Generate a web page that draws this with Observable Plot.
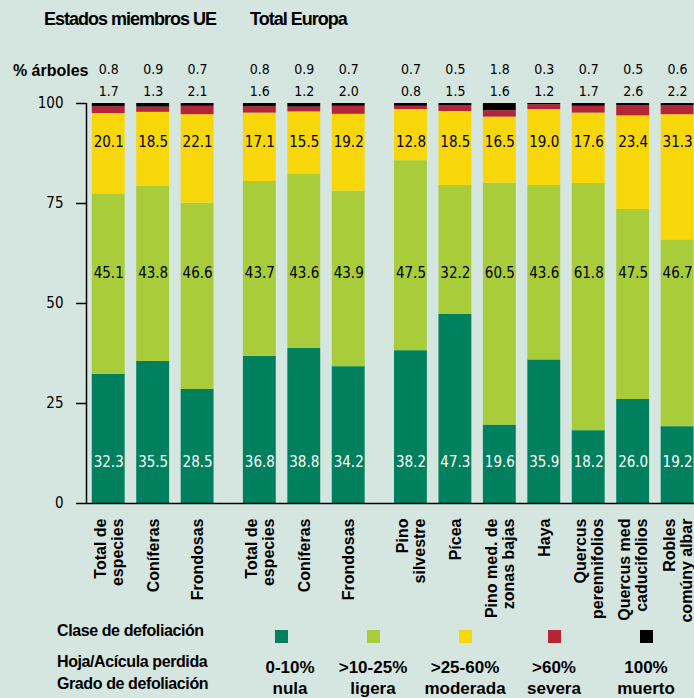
<!DOCTYPE html>
<html>
<head>
<meta charset="utf-8">
<script src="https://cdn.jsdelivr.net/npm/d3@7"></script>
<script src="https://cdn.jsdelivr.net/npm/@observablehq/plot@0.6"></script>
<style>
  html, body { margin: 0; padding: 0; background: #d5e6e0; }
  #wrap { position: relative; width: 694px; height: 698px; background: #d5e6e0; overflow: hidden;
          font-family: "Liberation Sans", Arial, sans-serif; color: #000; }
  #title { position: relative; height: 40px; }
  #title span { position: absolute; top: 9px; font-weight: bold; font-size: 18px; letter-spacing: -1px; }
  #chart { position: absolute; top: 40px; left: 0; }
  #legend { position: absolute; top: 612px; left: 0; width: 694px; height: 86px; }
  #legend .lab { position: absolute; left: 57px; font-size: 16px; font-weight: bold; letter-spacing: -0.4px; }
  #legend .sq { position: absolute; width: 13px; height: 13px; top: 18px; }
  #legend .it { position: absolute; top: 45px; width: 100px; text-align: center; font-size: 17px; font-weight: bold; line-height: 21px; }
  g[aria-label="category labels"] text { letter-spacing: 0.8px; }
</style>
</head>
<body>
<div id="wrap">
  <div id="title"></div>
  <div id="chart"></div>
  <div id="legend"></div>
</div>
<script>
// ---- data ----
const categories = [
  "Total de\nespecies", "Coníferas", "Frondosas",
  "Total de\nespecies", "Coníferas", "Frondosas",
  "Pino\nsilvestre", "Pícea", "Pino med. de\nzonas bajas", "Haya",
  "Quercus\nperennifolios", "Quercus med\ncaducifolios", "Robles\ncomúny albar"
];
const groupOf = [0, 0, 0, 1, 1, 1, 2, 2, 2, 2, 2, 2, 2];
const groupTitles = ["Estados miembros UE", "Total Europa"];
const nula     = [32.3, 35.5, 28.5, 36.8, 38.8, 34.2, 38.2, 47.3, 19.6, 35.9, 18.2, 26.0, 19.2];
const ligera   = [45.1, 43.8, 46.6, 43.7, 43.6, 43.9, 47.5, 32.2, 60.5, 43.6, 61.8, 47.5, 46.7];
const moderada = [20.1, 18.5, 22.1, 17.1, 15.5, 19.2, 12.8, 18.5, 16.5, 19.0, 17.6, 23.4, 31.3];
const severa   = [1.7, 1.3, 2.1, 1.6, 1.2, 2.0, 0.8, 1.5, 1.6, 1.2, 1.7, 2.6, 2.2];
const muerto   = [0.8, 0.9, 0.7, 0.8, 0.9, 0.7, 0.7, 0.5, 1.8, 0.3, 0.7, 0.5, 0.6];
const classKeys = ["nula", "ligera", "moderada", "severa", "muerto"];
const classColors = ["#00805d", "#a8cc3a", "#f7d70a", "#b42537", "#000000"];
const legendPct = ["0-10%", ">10-25%", ">25-60%", ">60%", "100%"];
const legendName = ["nula", "ligera", "moderada", "severa", "muerto"];
const yTicks = [0, 25, 50, 75, 100];
const rowLabel = "% árboles";
const legendLabels = ["Clase de defoliación", "Hoja/Acícula perdida", "Grado de defoliación"];

// ---- derived ----
const series = [nula, ligera, moderada, severa, muerto];
const slot = categories.map((c, i) => i + groupOf[i] * 0.4);
const rows = [];
categories.forEach((c, i) => {
  let acc = 0;
  series.forEach((s, k) => {
    rows.push({slot: slot[i], cls: classKeys[k], y1: acc, y2: acc + s[i]});
    acc += s[i];
  });
});
const half = 0.37;
const xDomain = [-0.5, 13.18];
const NUM = "'Liberation Sans Narrow','DejaVu Sans Condensed','Roboto Condensed',sans-serif";
const BOLD = "'Liberation Sans', Arial, sans-serif";
const idx = categories.map((c, i) => i);
const fmt = v => v.toFixed(1);

const plot = Plot.plot({
  width: 694,
  height: 590,
  marginTop: 63,
  marginBottom: 127,
  marginLeft: 86,
  marginRight: 0,
  style: {background: "transparent", fontFamily: NUM, fontSize: "14px", color: "#000", overflow: "visible"},
  x: {type: "linear", domain: xDomain, axis: null},
  y: {domain: [0, 100], axis: null},
  color: {domain: classKeys, range: classColors},
  marks: [
    Plot.rect(rows, {x1: d => d.slot - half, x2: d => d.slot + half, y1: "y1", y2: "y2", fill: "cls"}),
    Plot.axisY({ticks: yTicks, tickSize: 10, tickPadding: 13, fontSize: 15, fontFamily: NUM, stroke: "#000", strokeWidth: 1.5}),
    Plot.ruleX([xDomain[0]], {stroke: "#000", strokeWidth: 1.5}),
    Plot.ruleY([0], {stroke: "#000", strokeWidth: 1.5}),
    // values in bars
    Plot.text(idx, {x: i => slot[i], text: i => fmt(nula[i]), frameAnchor: "bottom", dy: -37, fill: "#fff", fontSize: 15, fontFamily: NUM}),
    Plot.text(idx, {x: i => slot[i], text: i => fmt(ligera[i]), frameAnchor: "middle", dy: -30, fill: "#000", fontSize: 15, fontFamily: NUM}),
    Plot.text(idx, {x: i => slot[i], text: i => fmt(moderada[i]), frameAnchor: "top", dy: 33, fill: "#000", fontSize: 15, fontFamily: NUM}),
    // header rows
    Plot.text(idx, {x: i => slot[i], text: i => fmt(muerto[i]), frameAnchor: "top", dy: -39, fill: "#000", fontSize: 14, fontFamily: NUM}),
    Plot.text(idx, {x: i => slot[i], text: i => fmt(severa[i]), frameAnchor: "top", dy: -17, fill: "#000", fontSize: 14, fontFamily: NUM}),
    Plot.text([rowLabel], {frameAnchor: "top-left", textAnchor: "end", dx: 2, dy: -39, fontSize: 16, fontWeight: "bold", fontFamily: BOLD}),
    // category labels
    Plot.text(idx, {x: i => slot[i], text: i => categories[i], frameAnchor: "bottom", dy: 15, rotate: -90,
      textAnchor: "end", lineAnchor: "middle", lineHeight: 1.08, fontSize: 16, fontWeight: "bold", fontFamily: BOLD,
      ariaLabel: "category labels"})
  ]
});
document.getElementById("chart").appendChild(plot);

// title
const title = document.getElementById("title");
[44, 250].forEach((left, g) => {
  const s = document.createElement("span");
  s.style.left = left + "px";
  s.textContent = groupTitles[g];
  title.appendChild(s);
});

// legend
const legend = document.getElementById("legend");
const labTops = [10, 41, 63];
legendLabels.forEach((t, j) => {
  const d = document.createElement("div");
  d.className = "lab"; d.style.top = labTops[j] + "px"; d.textContent = t;
  legend.appendChild(d);
});
const legendX = [281, 373, 465, 554, 646];
classKeys.forEach((k, j) => {
  const sq = document.createElement("div");
  sq.className = "sq"; sq.style.left = (legendX[j] - 6.5) + "px"; sq.style.background = classColors[j];
  legend.appendChild(sq);
  const it = document.createElement("div");
  it.className = "it"; it.style.left = (legendX[j] - 50 + (j === 0 ? 9 : 0)) + "px";
  it.innerHTML = legendPct[j] + "<br>" + legendName[j];
  legend.appendChild(it);
});
</script>
</body>
</html>
